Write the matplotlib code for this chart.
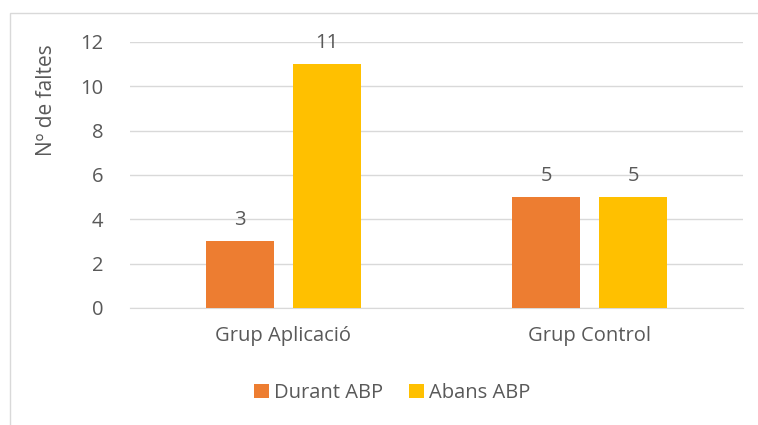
import numpy as np
import matplotlib.pyplot as plt
from matplotlib.patches import Rectangle

plt.rcParams['font.family'] = ['Open Sans', 'DejaVu Sans']

categories = ['Grup Aplicació', 'Grup Control']
series_names = ['Durant ABP', 'Abans ABP']
durant = [3, 5]
abans = [11, 5]
yticks = [0, 2, 4, 6, 8, 10, 12]

text_col = '#595959'
grid_col = '#D9D9D9'
colors = ['#ED7D31', '#FFC000']
fs = 14.5

fig = plt.figure(figsize=(7.58, 4.25), dpi=100)
ax = fig.add_axes([0.1715, 0.2753, 0.8085, 0.6259])

# outer chart border (left/top visible in the reference)
fig.patches.append(Rectangle((9.5 / 758, -0.1), 1.2, 1 - 13.5 / 425 + 0.1,
                             transform=fig.transFigure, fill=False,
                             edgecolor=grid_col, linewidth=1.0))

x = np.arange(len(categories))
w = 0.222
off = 0.142
b1 = ax.bar(x - off, durant, w, color=colors[0], label=series_names[0], zorder=3)
b2 = ax.bar(x + off, abans, w, color=colors[1], label=series_names[1], zorder=3)
for bars in (b1, b2):
    ax.bar_label(bars, padding=8, fontsize=fs, color=text_col)

ax.set_xlim(-0.5, 1.5)
ax.set_ylim(0, 12)
ax.set_yticks(yticks)
ax.set_xticks(x)
ax.set_xticklabels(categories)
ax.tick_params(axis='both', length=0, labelsize=fs, labelcolor=text_col)
ax.tick_params(axis='y', pad=19)
ax.tick_params(axis='x', pad=13)
ax.yaxis.grid(True, color=grid_col, linewidth=1.0, zorder=0)
for s in ['top', 'right', 'left']:
    ax.spines[s].set_visible(False)
ax.spines['bottom'].set_color(grid_col)
ax.set_ylabel('Nº de faltes', fontsize=15, color=text_col, va='center')
ax.yaxis.set_label_coords(-0.137, 0.782)

ax.legend(loc='center', bbox_to_anchor=(392 / 758, 1 - 393 / 425),
          bbox_transform=fig.transFigure, ncol=2, frameon=False,
          fontsize=fs, labelcolor=text_col, handlelength=0.75,
          handleheight=0.75, handletextpad=0.25, columnspacing=1.3)

fig.savefig('out.png', dpi=100)
